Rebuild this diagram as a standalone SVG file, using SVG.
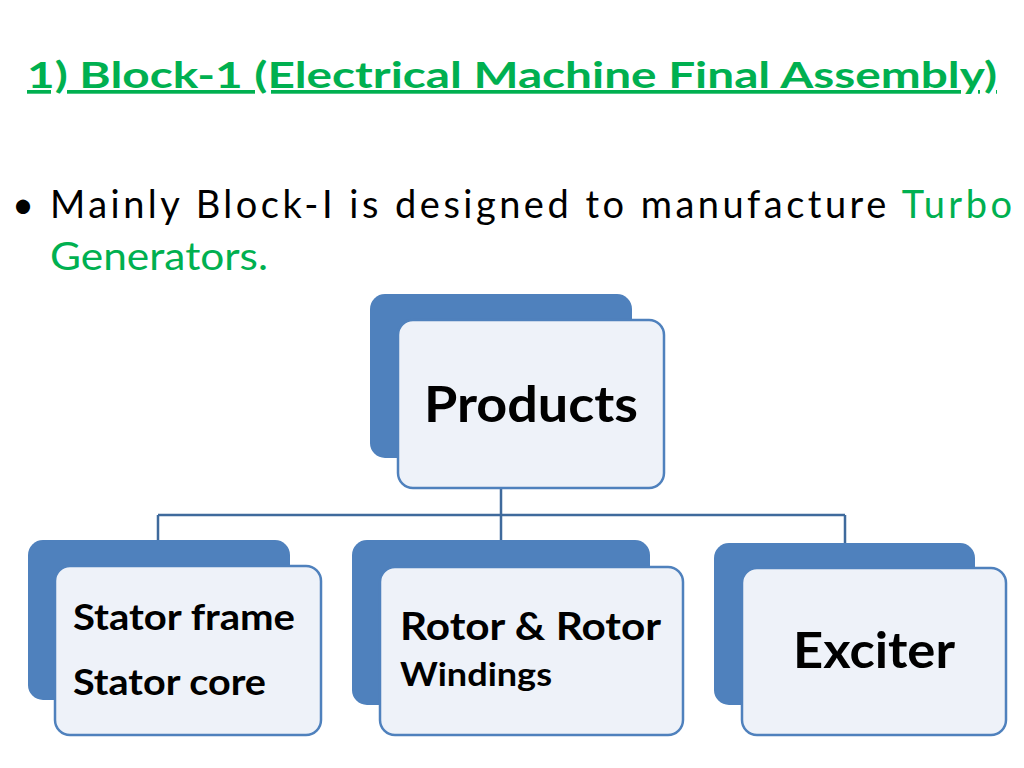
<svg xmlns="http://www.w3.org/2000/svg" width="1024" height="768" viewBox="0 0 1024 768">
<style>
.t{font-family:Lato,"Open Sans","Liberation Sans",sans-serif}
.back{fill:#4F81BD}
.front{fill:#EEF2F9;stroke:#4F81BD;stroke-width:2.5}
.lbl{font-family:Lato,"Open Sans","Liberation Sans",sans-serif;font-weight:bold;fill:#000}
.con{stroke:#3F6A9C;stroke-width:2.5;fill:none}
</style>
<rect width="1024" height="768" fill="#fff"/>
<text class="t" x="27" y="88" font-size="37" font-weight="bold" fill="#00B050" text-decoration="underline" textLength="970" lengthAdjust="spacingAndGlyphs">1) Block-1 (Electrical Machine Final Assembly)</text>
<text class="t" x="12" y="218" font-size="38" fill="#000">•</text>
<text class="t" x="50" y="218" font-size="38" fill="#000" textLength="962" lengthAdjust="spacing">Mainly Block-I is designed to manufacture <tspan fill="#00B050">Turbo</tspan></text>
<text class="t" x="50" y="270" font-size="38" fill="#00B050" textLength="218" lengthAdjust="spacingAndGlyphs">Generators.</text>
<g id="connectors">
<path class="con" d="M501,488 V515 M158,515 H845 M158,515 V540 M501,515 V540 M845,515 V543"/>
<path d="M501,462 V488" stroke="#C9D4E4" stroke-width="2.5"/>
</g>
<g id="products">
<rect class="back" x="370" y="294" width="262" height="164" rx="15"/>
<rect class="front" x="398" y="320" width="266" height="168" rx="15"/>
<text class="lbl" x="424" y="422" font-size="50" textLength="214" lengthAdjust="spacingAndGlyphs">Products</text>
</g>
<g id="stator">
<rect class="back" x="28" y="540" width="262" height="160" rx="15"/>
<rect class="front" x="55" y="566" width="266" height="169" rx="15"/>
<text class="lbl" x="73" y="630" font-size="36" textLength="222" lengthAdjust="spacingAndGlyphs">Stator frame</text>
<text class="lbl" x="73" y="695" font-size="36" textLength="193" lengthAdjust="spacingAndGlyphs">Stator core</text>
</g>
<g id="rotor">
<rect class="back" x="352" y="540" width="298" height="165" rx="15"/>
<rect class="front" x="380" y="567" width="303" height="168" rx="15"/>
<text class="lbl" x="400" y="640" font-size="38" textLength="261" lengthAdjust="spacingAndGlyphs">Rotor &amp; Rotor</text>
<text class="lbl" x="400" y="686" font-size="33" textLength="152" lengthAdjust="spacingAndGlyphs">Windings</text>
</g>
<g id="exciter">
<rect class="back" x="714" y="543" width="261" height="162" rx="15"/>
<rect class="front" x="742" y="568" width="264" height="167" rx="15"/>
<text class="lbl" x="793" y="668" font-size="50" textLength="162" lengthAdjust="spacingAndGlyphs">Exciter</text>
</g>
</svg>
